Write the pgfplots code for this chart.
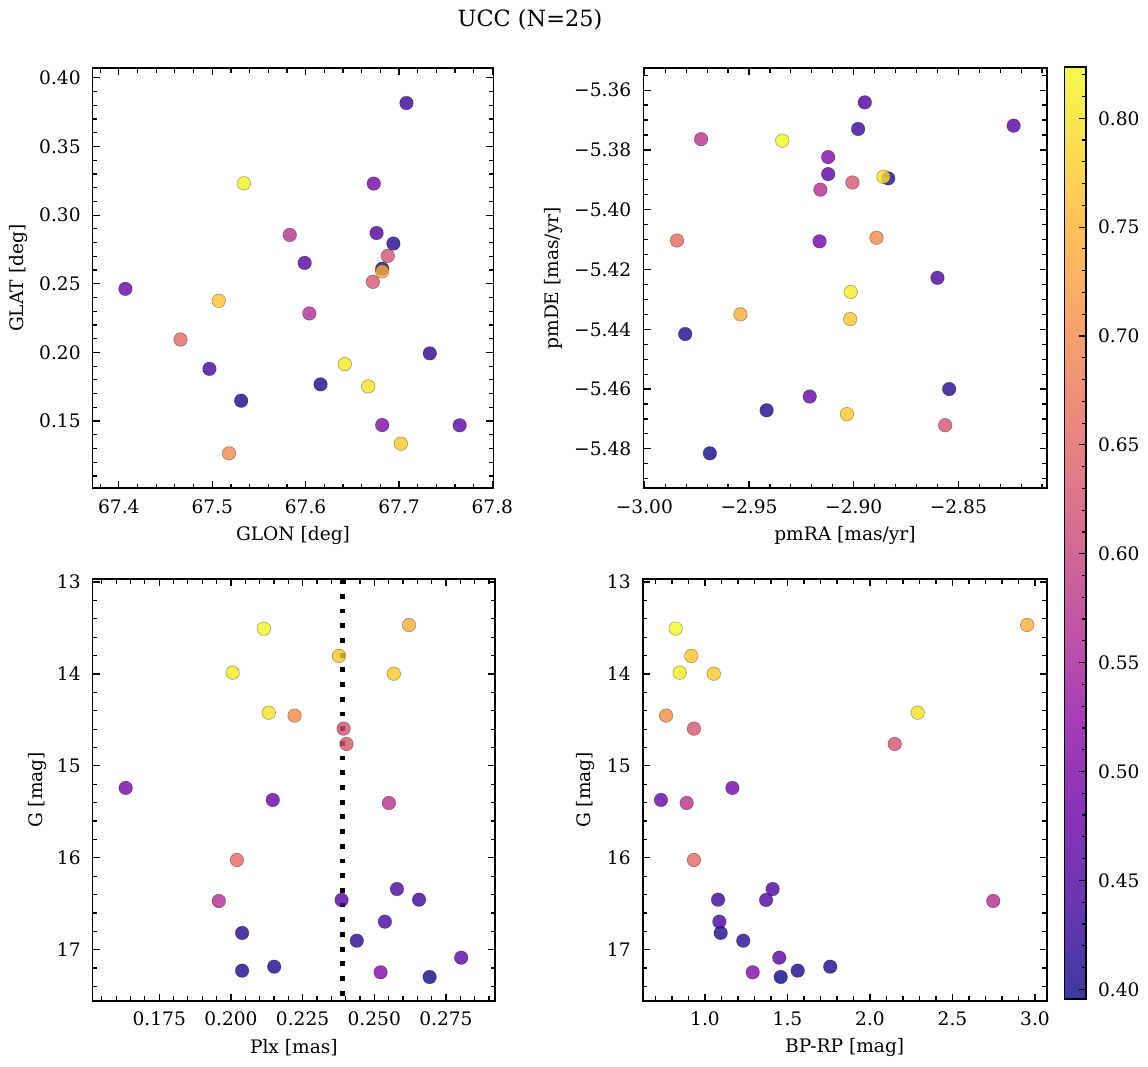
\documentclass[border=0pt]{standalone}
\usepackage{fontspec}
\setmainfont{DejaVu Serif}
\usepackage{pgfplots}
\usepackage{pgfplotstable}
\pgfplotsset{compat=1.18}

\newcommand\tlfont{\fontsize{9.3}{11}\selectfont}

% plasma, and plasma seen through alpha 0.8 on white for the colour bar
\pgfplotsset{
  colormap={plasma}{rgb255=(13,8,135) rgb255=(65,4,157) rgb255=(106,0,168)
    rgb255=(143,13,164) rgb255=(177,42,144) rgb255=(204,71,120) rgb255=(225,100,98)
    rgb255=(242,132,75) rgb255=(252,166,54) rgb255=(252,206,37) rgb255=(240,249,33)},
  colormap={plasmabar}{rgb255=(61,57,159) rgb255=(103,54,177) rgb255=(136,51,185)
    rgb255=(165,61,182) rgb255=(193,85,166) rgb255=(214,108,147) rgb255=(231,131,129)
    rgb255=(245,157,111) rgb255=(253,184,94) rgb255=(253,216,81) rgb255=(243,250,77)},
  panel/.style={
    scale only axis, anchor=south west,
    tick align=inside,
    major tick length=3.6pt, minor tick length=2.2pt,
    axis line style={line width=0.8pt},
    every tick/.style={black, line width=0.6pt},
    colormap name=plasma,
    point meta min=0.3954, point meta max=0.8234,
    /pgf/number format/assume math mode=true,
    tick label style={font=\tlfont},
    label style={font=\tlfont},
    xticklabel style={yshift=-2pt},
    yticklabel style={xshift=-2.5pt},
  },
  dots/.style={
    scatter, only marks, mark=*, mark size=3.4pt,
    scatter src=explicit,
    scatter/use mapped color={draw=black, fill=mapped color},
    mark options={line width=0.3pt, fill opacity=0.8, draw opacity=0.35},
  },
}

\pgfplotstableread{
glon   glat   pmra    pmde    plx    g      bprp  prob
67.682 0.2610 -2.9687 -5.4815 0.2693 17.297 1.459 0.397
67.531 0.1648 -2.9416 -5.4671 0.2039 17.228 1.562 0.405
67.616 0.1767 -2.9805 -5.4416 0.2151 17.185 1.759 0.408
67.694 0.2793 -2.8544 -5.4600 0.2039 16.818 1.095 0.415
67.733 0.1993 -2.8835 -5.3895 0.2439 16.902 1.232 0.418
67.708 0.3817 -2.8979 -5.3730 0.2656 16.456 1.079 0.432
67.497 0.1880 -2.8600 -5.4228 0.2537 16.695 1.087 0.445
67.676 0.2870 -2.8947 -5.3641 0.2579 16.340 1.410 0.452
67.599 0.2652 -2.8236 -5.3719 0.2386 16.459 1.370 0.455
67.765 0.1469 -2.9122 -5.3881 0.2803 17.087 1.450 0.460
67.407 0.2463 -2.9210 -5.4625 0.2146 15.371 0.733 0.475
67.673 0.3230 -2.9163 -5.4106 0.1633 15.240 1.166 0.490
67.682 0.1471 -2.9122 -5.3824 0.2522 17.246 1.289 0.505
67.604 0.2284 -2.9159 -5.3933 0.1958 16.470 2.747 0.565
67.583 0.2856 -2.9729 -5.3764 0.2551 15.404 0.889 0.575
67.688 0.2703 -2.8563 -5.4721 0.2393 14.595 0.933 0.625
67.672 0.2514 -2.9006 -5.3909 0.2403 14.762 2.150 0.630
67.466 0.2094 -2.9844 -5.4103 0.2021 16.024 0.933 0.655
67.518 0.1265 -2.8891 -5.4094 0.2222 14.453 0.764 0.700
67.682 0.2590 -2.9541 -5.4350 0.2621 13.467 2.953 0.745
67.507 0.2376 -2.9017 -5.4366 0.2377 13.804 0.917 0.770
67.702 0.1335 -2.9032 -5.4684 0.2568 13.997 1.053 0.775
67.667 0.1752 -2.8858 -5.3890 0.2132 14.421 2.289 0.800
67.642 0.1915 -2.9014 -5.4275 0.2006 13.986 0.847 0.810
67.534 0.3232 -2.9341 -5.3769 0.2115 13.507 0.822 0.823
}\ucc

\begin{document}
\begin{tikzpicture}
\path[use as bounding box] (0,0) rectangle (574pt,533.5pt);
\node[font=\fontsize{11.2}{13}\selectfont] at (265pt,523.5pt) {UCC (N=25)};

% GLON / GLAT
\begin{axis}[panel, at={(46.35pt,289.35pt)}, width=200.3pt, height=210pt,
  xmin=67.372, xmax=67.801, ymin=0.101, ymax=0.407,
  xtick={67.4,67.5,67.6,67.7,67.8},
  minor xtick={67.38,67.40,...,67.80},
  ytick={0.15,0.20,0.25,0.30,0.35,0.40},
  minor ytick={0.11,0.12,...,0.40},
  xticklabel style={/pgf/number format/.cd, fixed, fixed zerofill, precision=1},
  yticklabel style={/pgf/number format/.cd, fixed, fixed zerofill, precision=2},
  xlabel={GLON [deg]}, ylabel={GLAT [deg]},
  xlabel style={at={(axis description cs:0.5,-0.112)}, anchor=center},
  ylabel style={at={(axis description cs:-0.185,0.5)}, anchor=center},
]
\addplot[dots] table[x=glon, y=glat, meta=prob] {\ucc};
\end{axis}

% pmRA / pmDE
\begin{axis}[panel, at={(321.65pt,289.35pt)}, width=201.7pt, height=210pt,
  xmin=-3.0005, xmax=-2.8078, ymin=-5.4932, ymax=-5.3527,
  xtick={-3.0,-2.95,-2.9,-2.85},
  xticklabels={−3.00,−2.95,−2.90,−2.85},
  minor xtick={-2.99,-2.98,...,-2.81},
  ytick={-5.48,-5.46,-5.44,-5.42,-5.40,-5.38,-5.36},
  yticklabels={−5.48,−5.46,−5.44,−5.42,−5.40,−5.38,−5.36},
  minor ytick={-5.49,-5.485,...,-5.355},
  xlabel={pmRA [mas/yr]}, ylabel={pmDE [mas/yr]},
  xlabel style={at={(axis description cs:0.5,-0.112)}, anchor=center},
  ylabel style={at={(axis description cs:-0.222,0.5)}, anchor=center},
]
\addplot[dots] table[x=pmra, y=pmde, meta=prob] {\ucc};
\end{axis}

% Plx / G
\begin{axis}[panel, at={(46.35pt,33.15pt)}, width=201.15pt, height=210.7pt,
  xmin=0.1518, xmax=0.2921, ymin=12.97, ymax=17.555, y dir=reverse,
  xtick={0.175,0.2,0.225,0.25,0.275},
  minor xtick={0.155,0.16,...,0.29},
  ytick={13,14,15,16,17},
  minor ytick={13,13.2,...,17.4},
  xticklabel style={/pgf/number format/.cd, fixed, fixed zerofill, precision=3},
  xlabel={Plx [mas]}, ylabel={G [mag]},
  xlabel style={at={(axis description cs:0.5,-0.112)}, anchor=center},
  ylabel style={at={(axis description cs:-0.137,0.5)}, anchor=center},
]
\addplot[dots] table[x=plx, y=g, meta=prob] {\ucc};
\addplot[black, line width=2.4pt, dash pattern=on 2.4pt off 4.95pt]
  coordinates {(0.2388,12.97) (0.2388,17.555)};
\end{axis}

% BP-RP / G, with the colour bar
\begin{axis}[panel, at={(321.35pt,33.15pt)}, width=202pt, height=210.7pt,
  xmin=0.6224, xmax=3.071, ymin=12.97, ymax=17.555, y dir=reverse,
  xtick={1,1.5,2,2.5,3},
  minor xtick={0.7,0.8,...,3.0},
  ytick={13,14,15,16,17},
  minor ytick={13,13.2,...,17.4},
  xticklabel style={/pgf/number format/.cd, fixed, fixed zerofill, precision=1},
  xlabel={BP-RP [mag]}, ylabel={G [mag]},
  xlabel style={at={(axis description cs:0.5,-0.112)}, anchor=center},
  ylabel style={at={(axis description cs:-0.141,0.5)}, anchor=center},
  colorbar,
  colorbar style={
    at={(parent axis.south east)}, anchor=south west,
    xshift=0.3pt, yshift=0.7pt,
    scale only axis, width=10.85pt, height=466pt,
    colormap name=plasmabar,
    axis line style={line width=0.8pt},
    tick align=inside, ytick pos=right, yticklabel pos=right,
    major tick length=3.6pt, minor tick length=2.2pt,
    every tick/.style={black, line width=0.6pt},
    ytick={0.40,0.45,0.50,0.55,0.60,0.65,0.70,0.75,0.80},
    minor ytick={0.40,0.41,...,0.82},
    yticklabel style={font=\tlfont, xshift=2.5pt,
      /pgf/number format/.cd, fixed, fixed zerofill, precision=2,
      assume math mode=true},
  },
]
\addplot[dots] table[x=bprp, y=g, meta=prob] {\ucc};
\end{axis}
\end{tikzpicture}
\end{document}
